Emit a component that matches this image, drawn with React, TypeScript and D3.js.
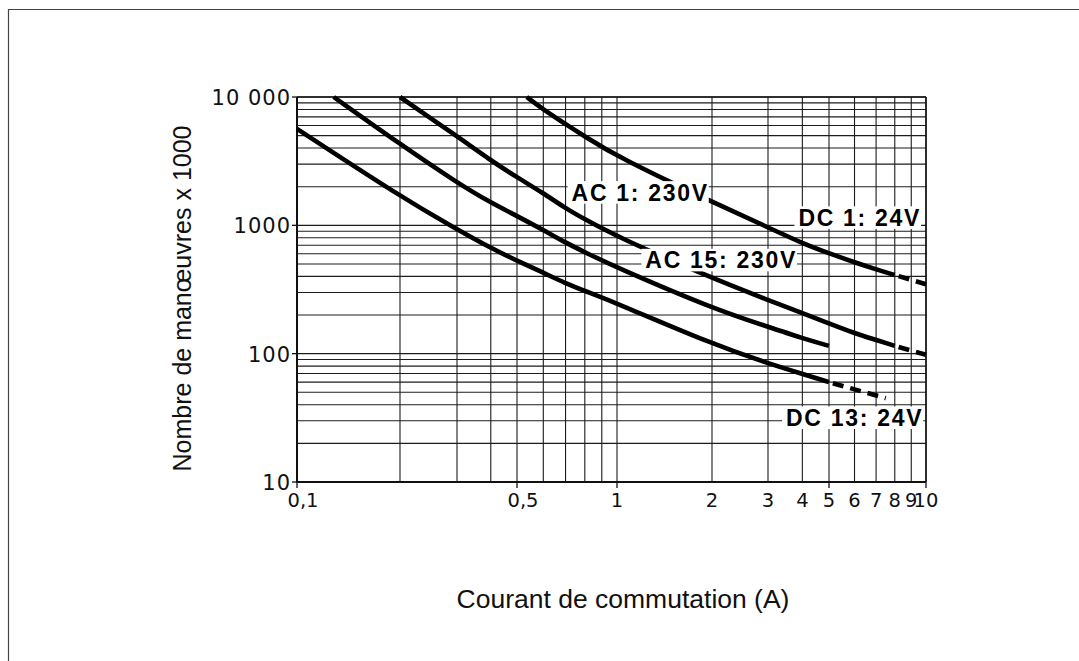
import React, { useEffect, useRef } from 'react';
import * as d3 from 'd3';

const W = 1079;
const H = 661;

// Courant (A) -> nombre de manoeuvres x 1000 (top to bottom)
const c1Amps = [0.535, 0.6, 0.7, 0.8, 1, 2, 3, 4, 5, 6, 7, 8];
const c1Ops = [10000, 8000, 6150, 4930, 3430, 1520, 966, 724, 605, 515, 454, 410];
const c1TailAmps = [8, 10];
const c1TailOps = [410, 347];

const c2Amps = [0.2, 0.3, 0.4, 0.5, 0.6, 0.7, 0.8, 1, 2, 3, 4, 5, 6, 7, 8];
const c2Ops = [10000, 4950, 3200, 2370, 1780, 1358, 1115, 815, 387, 262, 207, 172, 144, 128, 115];
const c2TailAmps = [8, 10];
const c2TailOps = [115, 98];

const c3Amps = [0.128, 0.2, 0.3, 0.4, 0.5, 0.6, 0.7, 0.8, 1, 2, 3, 4, 5];
const c3Ops = [10000, 4290, 2150, 1500, 1183, 920, 733, 617, 468, 226, 162, 132, 115];

const c4Amps = [0.1, 0.2, 0.3, 0.4, 0.5, 0.6, 0.7, 0.8, 1, 2, 3, 4, 5];
const c4Ops = [5640, 1680, 930, 665, 530, 428, 353, 308, 247, 119, 84, 69.5, 60];
const c4TailAmps = [5, 7.5];
const c4TailOps = [60, 45];

// curve labels, anchored at their left end / baseline
const labelTexts = ['AC 1: 230V', 'AC 15: 230V', 'DC 1: 24V', 'DC 13: 24V'];
const labelAmps = [0.73, 1.23, 3.87, 3.49];
const labelOps = [1556, 462, 990, 27.3];

const xTickValues = [0.1, 0.5, 1, 2, 3, 4, 5, 6, 7, 8, 9, 10];
const xTickLabels = ['0,1', '0,5', '1', '2', '3', '4', '5', '6', '7', '8', '9', '10'];
const xMarked = [0.1, 0.5, 1, 5, 10];
const yTickValues = [10, 100, 1000, 10000];
const yTickLabels = ['10', '100', '1000', '10 000'];

const xTitle = 'Courant de commutation (A)';
const yTitle = 'Nombre de manœuvres x 1000';

const zip = (a: number[], b: number[]) => a.map((v, i) => [v, b[i]] as [number, number]);

export default function App() {
  const ref = useRef<SVGSVGElement>(null);

  useEffect(() => {
    if (!ref.current) return;
    const svg = d3.select(ref.current);
    svg.selectAll('*').remove();

    // the printed log grid is a bit uneven, so the scale is pinned to its printed lines
    const x = d3.scaleLog()
      .domain([0.1, 0.2, 0.3, 0.5, 1, 2, 3, 5, 10])
      .range([297, 400, 457, 517, 617, 712, 768, 829, 926]);
    const y = d3.scaleLog().domain([10, 10000]).range([482, 97]);

    const [x0, x1] = [x(0.1), x(10)];
    const [yb, yt] = [y(10), y(10000)];

    // outer frame (only left and top visible)
    svg.append('path')
      .attr('d', `M8.5,${H} V9.5 H${W}`)
      .attr('fill', 'none')
      .attr('stroke', '#444')
      .attr('stroke-width', 1.2);

    const grid = svg.append('g').attr('stroke', '#1c1c1c').attr('stroke-width', 1.1);
    grid.selectAll('.gx')
      .data(x.ticks())
      .join('line')
      .attr('x1', d => x(d)).attr('x2', d => x(d))
      .attr('y1', yb).attr('y2', yt);
    grid.selectAll('.gy')
      .data(y.ticks())
      .join('line')
      .attr('x1', x0).attr('x2', x1)
      .attr('y1', d => y(d)).attr('y2', d => y(d));

    // axis lines + small tick marks
    const ax = svg.append('g').attr('stroke', '#111');
    ax.append('line').attr('x1', x0).attr('x2', x0).attr('y1', yb + 0.5).attr('y2', yt).attr('stroke-width', 2);
    ax.append('line').attr('x1', x0).attr('x2', x1).attr('y1', yb).attr('y2', yb).attr('stroke-width', 2);
    ax.append('line').attr('x1', x1).attr('x2', x1).attr('y1', yb).attr('y2', yt).attr('stroke-width', 1.5);
    ax.append('line').attr('x1', x0).attr('x2', x1).attr('y1', yt).attr('y2', yt).attr('stroke-width', 1.5);
    ax.selectAll('.ty')
      .data(yTickValues)
      .join('line')
      .attr('x1', x0 - 5).attr('x2', x0)
      .attr('y1', d => y(d)).attr('y2', d => y(d))
      .attr('stroke-width', 1.3);
    ax.selectAll('.tx')
      .data(xMarked)
      .join('line')
      .attr('x1', d => x(d)).attr('x2', d => x(d))
      .attr('y1', yb).attr('y2', yb + 6)
      .attr('stroke-width', 1.3);

    // tick labels
    svg.append('g')
      .selectAll('text')
      .data(yTickValues)
      .join('text')
      .attr('x', x0 - 6)
      .attr('y', d => y(d))
      .attr('dy', '0.38em')
      .attr('text-anchor', 'end')
      .attr('font-family', 'DejaVu Sans, sans-serif')
      .attr('font-size', 21)
      .attr('letter-spacing', 1)
      .attr('fill', '#111')
      .text((d, i) => yTickLabels[i]);

    svg.append('g')
      .selectAll('text')
      .data(xTickValues)
      .join('text')
      .attr('x', d => x(d))
      .attr('dx', (d, i) => (xTickLabels[i].includes(',') ? 6 : 0))
      .attr('y', 507)
      .attr('text-anchor', 'middle')
      .attr('font-family', 'DejaVu Sans, sans-serif')
      .attr('font-size', 19.5)
      .attr('fill', '#111')
      .text((d, i) => xTickLabels[i]);

    // curves
    const line = d3.line<[number, number]>()
      .x(d => x(d[0]))
      .y(d => y(d[1]))
      .curve(d3.curveBasis);

    const solid = [zip(c1Amps, c1Ops), zip(c2Amps, c2Ops), zip(c3Amps, c3Ops), zip(c4Amps, c4Ops)];
    const tails = [zip(c1TailAmps, c1TailOps), zip(c2TailAmps, c2TailOps), zip(c4TailAmps, c4TailOps)];

    svg.append('g')
      .selectAll('path')
      .data(solid)
      .join('path')
      .attr('d', d => line(d))
      .attr('fill', 'none')
      .attr('stroke', '#000')
      .attr('stroke-width', 4.6);

    svg.append('g')
      .selectAll('path')
      .data(tails)
      .join('path')
      .attr('d', d => line(d))
      .attr('fill', 'none')
      .attr('stroke', '#000')
      .attr('stroke-width', 4.6)
      .attr('stroke-dasharray', '11,7')
      .attr('stroke-dashoffset', 14);

    // curve labels on white patches
    const fs = 23;
    const lab = svg.append('g');
    labelTexts.forEach((t, i) => {
      const lx = x(labelAmps[i]);
      const ly = y(labelOps[i]);
      const bg = lab.append('rect').attr('fill', '#fff');
      const txt = lab.append('text')
        .attr('x', lx)
        .attr('y', ly)
        .attr('font-family', 'Liberation Sans, Arial, sans-serif')
        .attr('font-weight', 'bold')
        .attr('font-size', fs)
        .attr('letter-spacing', 1.7)
        .attr('fill', '#000')
        .text(t);
      const bb = (txt.node() as SVGTextElement).getBBox();
      bg.attr('x', bb.x - 4)
        .attr('y', ly - fs * 0.72 - 3)
        .attr('width', bb.width + 4)
        .attr('height', fs * 0.72 + 6);
    });

    // axis titles
    svg.append('text')
      .attr('x', 623)
      .attr('y', 608)
      .attr('text-anchor', 'middle')
      .attr('font-family', 'Liberation Sans, Arial, sans-serif')
      .attr('font-size', 26.5)
      .attr('fill', '#111')
      .text(xTitle);

    svg.append('text')
      .attr('transform', `translate(191,${(yb + yt) / 2 + 9}) rotate(-90)`)
      .attr('text-anchor', 'middle')
      .attr('font-family', 'Liberation Sans, Arial, sans-serif')
      .attr('font-size', 25)
      .attr('fill', '#111')
      .text(yTitle);
  }, []);

  return (
    <svg
      ref={ref}
      width={W}
      height={H}
      style={{ position: 'absolute', left: 0, top: 0, background: '#fff' }}
    />
  );
}
